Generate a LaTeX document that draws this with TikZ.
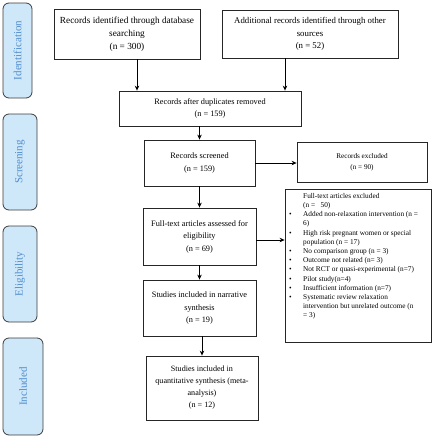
\documentclass[tikz,border=0pt]{standalone}
\usepackage{fontspec}
\setmainfont{Liberation Serif}
\usetikzlibrary{arrows.meta}
\definecolor{sidefill}{RGB}{206,232,250}
\definecolor{sidetext}{RGB}{80,140,205}
\definecolor{sidedraw}{RGB}{60,60,60}
\newcommand\bul{\makebox[14pt][l]{\textbullet}}
\newcommand\ind{\hspace*{14pt}}
\tikzset{
  box/.style={draw=black!85,line width=0.8pt,align=center,inner sep=2pt,
    font=\fontsize{8.3}{12.5}\selectfont},
  sidebox/.style={draw=sidedraw,line width=0.8pt,fill=sidefill,rounded corners=6pt,
    rotate=90,text=sidetext,font=\fontsize{11}{13}\selectfont,inner sep=0pt},
  arr/.style={line width=0.8pt,-{Stealth[length=5pt,width=4.5pt]}}
}
\begin{document}
\begin{tikzpicture}[x=1pt,y=-1pt]
\useasboundingbox (0,0) rectangle (436,440);
% side labels
\node[sidebox,minimum width=95pt,minimum height=29pt] (sid) at (17.5,50.5) {Identification};
\node[sidebox,minimum width=96pt,minimum height=34pt] (sscr) at (20,162) {Screening};
\node[sidebox,minimum width=96pt,minimum height=34pt] (selig) at (20,274) {Eligibility};
\node[sidebox,minimum width=97pt,minimum height=40pt] (sinc) at (23,386.5) {Included};
% boxes
\node[box,minimum width=146pt,minimum height=50pt,font=\fontsize{9.3}{13}\selectfont] (b1) at (127,34)
  {Records identified through database\\searching\\(n = 300)};
\node[box,minimum width=176pt,minimum height=48pt,font=\fontsize{8.8}{12.5}\selectfont] (b2) at (310,34)
  {Additional records identified through other\\sources\\(n = 52)};
\node[box,minimum width=182pt,minimum height=35pt] (b3) at (210,108.5)
  {Records after duplicates removed\\(n = 159)};
\node[box,minimum width=111pt,minimum height=46pt] (b4) at (199.5,163)
  {Records screened\\(n = 159)};
\node[box,minimum width=130pt,minimum height=40pt,font=\fontsize{7.2}{11}\selectfont] (b5) at (362,162)
  {Records excluded\\(n = 90)};
\node[box,minimum width=113pt,minimum height=57pt] (b6) at (199.5,236.5)
  {Full-text articles assessed for\\eligibility\\(n = 69)};
\node[box,minimum width=146pt,minimum height=153pt] (b7) at (358,265.5) {};
\node[anchor=north west,align=left,inner sep=0pt,font=\fontsize{7.3}{9.2}\selectfont] (b7t) at (289,193)
  {\ind Full-text articles excluded\\
   \ind (n = \ \ 50)\\
   \bul Added non-relaxation intervention (n =\\
   \ind 6)\\
   \bul High risk pregnant women or special\\
   \ind population (n = 17)\\
   \bul No comparison group (n = 3)\\
   \bul Outcome not related (n= 3)\\
   \bul Not RCT or quasi-experimental (n=7)\\
   \bul Pilot study(n=4)\\
   \bul Insufficient information (n=7)\\
   \bul Systematic review relaxation\\
   \ind intervention but unrelated outcome (n\\
   \ind = 3)};
\node[box,minimum width=113pt,minimum height=56pt] (b8) at (199.5,308)
  {Studies included in narrative\\synthesis\\(n = 19)};
\node[box,minimum width=112pt,minimum height=64pt,font=\fontsize{8.1}{12}\selectfont] (b9) at (202,388)
  {Studies included in\\quantitative synthesis (meta-\\analysis)\\(n = 12)};
% arrows
\draw[arr] ([xshift=10pt]b1.south) -- ([xshift=10pt]b1.south |- b3.north);
\draw[arr] ([xshift=-25pt]b2.south) -- ([xshift=-25pt]b2.south |- b3.north);
\draw[arr] (b3.south -| b4.north) -- (b4.north);
\draw[arr] (b4.east) -- (b4.east -| b5.west);
\draw[arr] (b4.south) -- (b6.north);
\draw[arr] ([yshift=-3.5pt]b6.east) -- ([yshift=-3.5pt]b6.east -| b7.west);
\draw[arr] (b6.south) -- (b8.north);
\draw[arr] (b8.south -| b9.north) -- (b9.north);
\end{tikzpicture}
\end{document}
